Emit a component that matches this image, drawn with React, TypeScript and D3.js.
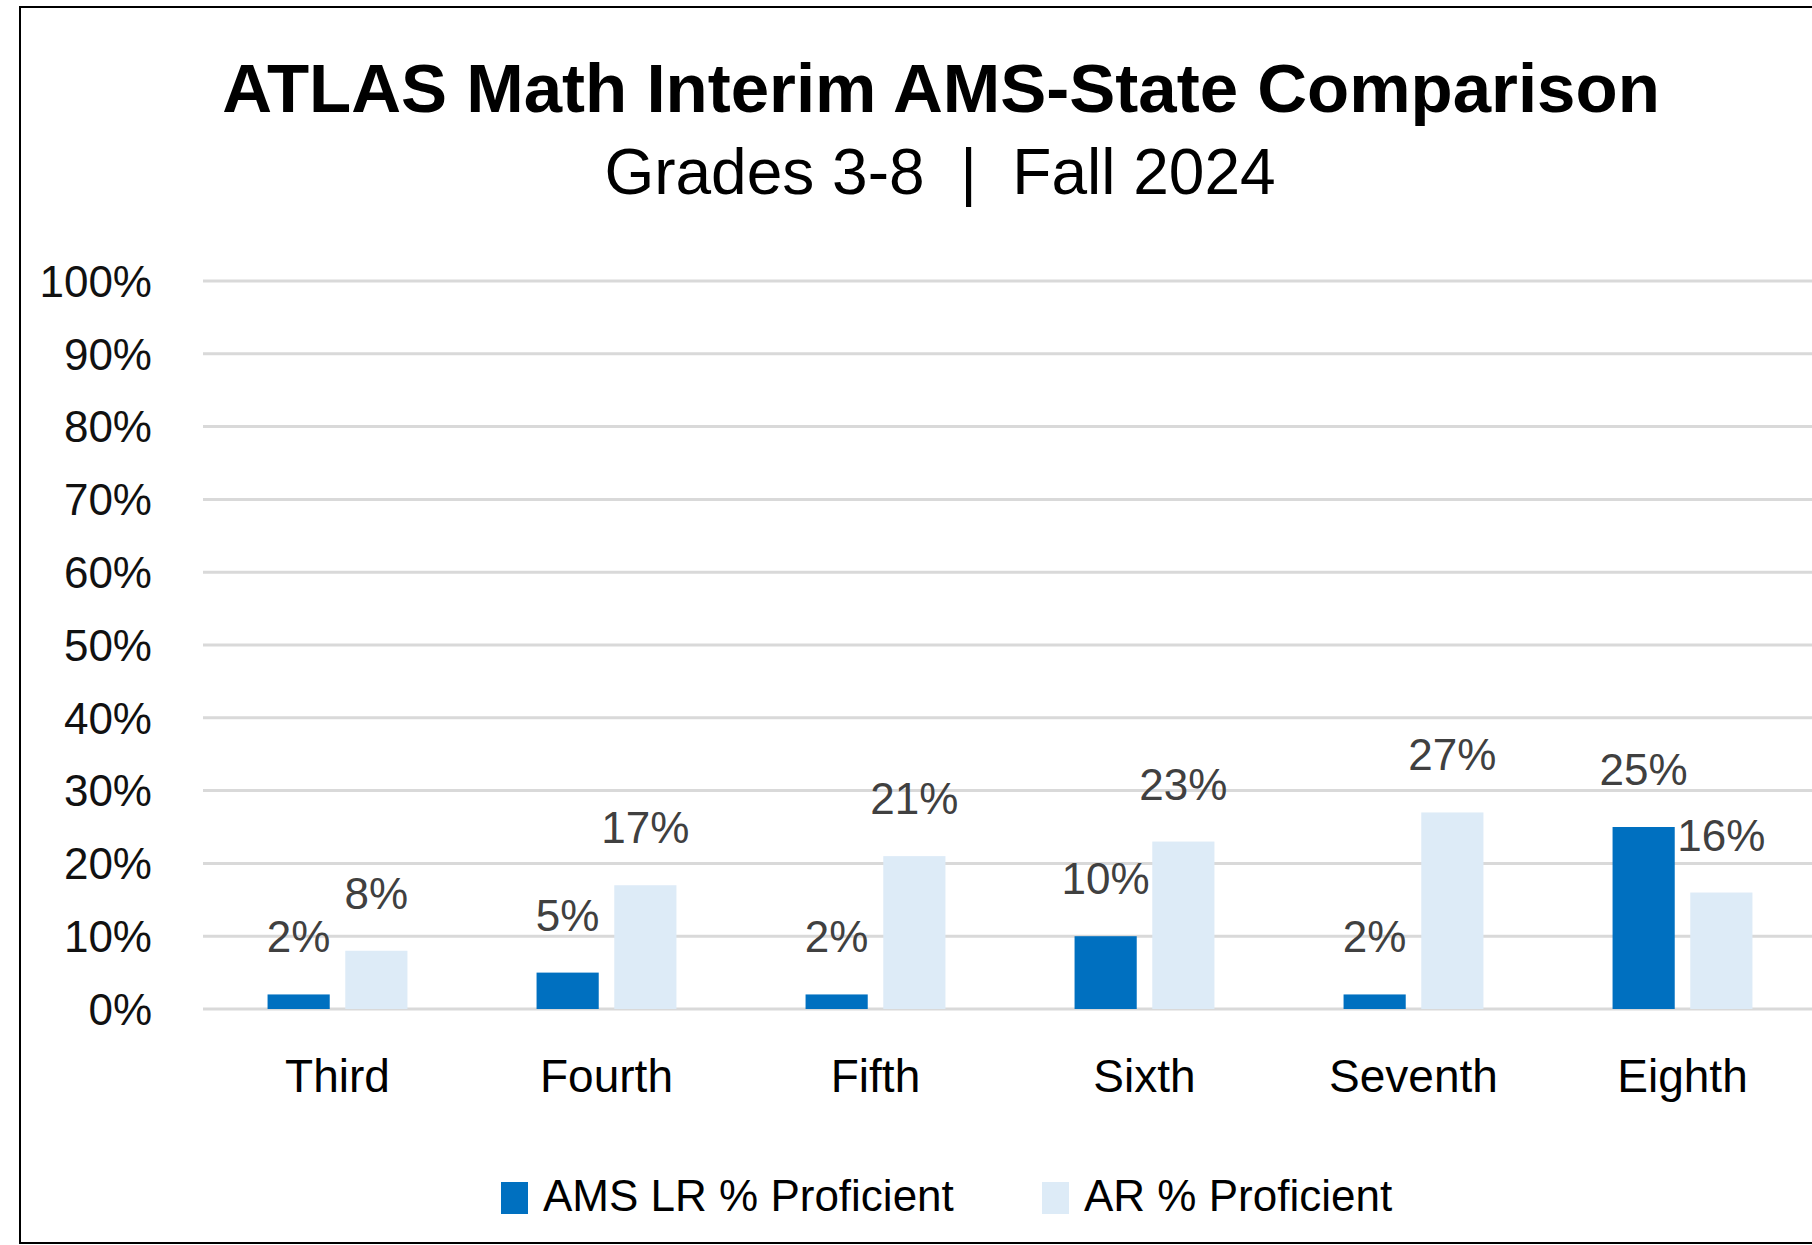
import * as d3 from "d3";

// grade levels and the two proficiency series (fractions)
const grades = ["Third", "Fourth", "Fifth", "Sixth", "Seventh", "Eighth"];
const amsValues = [0.02, 0.05, 0.02, 0.10, 0.02, 0.25];
const arValues = [0.08, 0.17, 0.21, 0.23, 0.27, 0.16];
const seriesNames = ["AMS LR % Proficient", "AR % Proficient"];
const yTicks = [0, 0.1, 0.2, 0.3, 0.4, 0.5, 0.6, 0.7, 0.8, 0.9, 1.0];

const W = 1812;
const H = 1245;
const colors = ["#0070C0", "#DDEBF7"];
const font = "'Liberation Sans', Arial, sans-serif";

const App = () => {
  const margin = { left: 203, right: -5, top: 281, bottom: 236 };

  // шкалы
  const x0 = d3
    .scaleBand<string>()
    .domain(grades)
    .range([margin.left, W - margin.right])
    .paddingInner(0.48)
    .paddingOuter(0.24);

  const x1 = d3
    .scaleBand<string>()
    .domain(seriesNames)
    .range([0, x0.bandwidth()])
    .paddingInner(0.2);

  const y = d3
    .scaleLinear()
    .domain([0, 1])
    .range([H - margin.bottom, margin.top]);

  const pct = d3.format(".0%");
  const series = [amsValues, arValues];

  return (
    <svg width={W} height={H} style={{ display: "block", position: "absolute", left: 0, top: 0 }}>
      <rect x={0} y={0} width={W} height={H} fill="#fff" />
      {/* рамка */}
      <rect x={20} y={7} width={W + 20} height={1236} fill="none" stroke="#000" strokeWidth={2} />

      <text x={941} y={112} textAnchor="middle" fontFamily={font} fontWeight="bold" fontSize={69} fill="#000">
        ATLAS Math Interim AMS-State Comparison
      </text>
      <text x={940} y={194} textAnchor="middle" fontFamily={font} fontSize={64} fill="#000" style={{ whiteSpace: "pre" }}>
        {"Grades 3-8  |  Fall 2024"}
      </text>

      {/* сетка и подписи оси Y */}
      {yTicks.map((t) => (
        <g key={t}>
          <line x1={margin.left} x2={W} y1={y(t)} y2={y(t)} stroke="#D9D9D9" strokeWidth={3} />
          <text x={152} y={y(t)} dy="0.36em" textAnchor="end" fontFamily={font} fontSize={44} fill="#111">
            {pct(t)}
          </text>
        </g>
      ))}

      {/* столбцы */}
      {grades.map((g, i) => (
        <g key={g} transform={`translate(${x0(g)},0)`}>
          {series.map((vals, s) => (
            <g key={s}>
              <rect
                x={x1(seriesNames[s])}
                y={y(vals[i])}
                width={x1.bandwidth()}
                height={y(0) - y(vals[i])}
                fill={colors[s]}
              />
              <text
                x={(x1(seriesNames[s]) as number) + x1.bandwidth() / 2}
                y={y(vals[i]) - 42}
                textAnchor="middle"
                fontFamily={font}
                fontSize={44}
                fill="#404040"
              >
                {pct(vals[i])}
              </text>
            </g>
          ))}
          <text
            x={x0.bandwidth() / 2}
            y={1092}
            textAnchor="middle"
            fontFamily={font}
            fontSize={46}
            fill="#000"
          >
            {g}
          </text>
        </g>
      ))}

      {/* легенда */}
      {seriesNames.map((name, s) => {
        const lx = [501, 1042][s];
        return (
          <g key={name}>
            <rect x={lx} y={1182} width={27} height={32} fill={colors[s]} />
            <text x={lx + 42} y={1211} fontFamily={font} fontSize={44} fill="#000">
              {name}
            </text>
          </g>
        );
      })}
    </svg>
  );
};

export default App;
